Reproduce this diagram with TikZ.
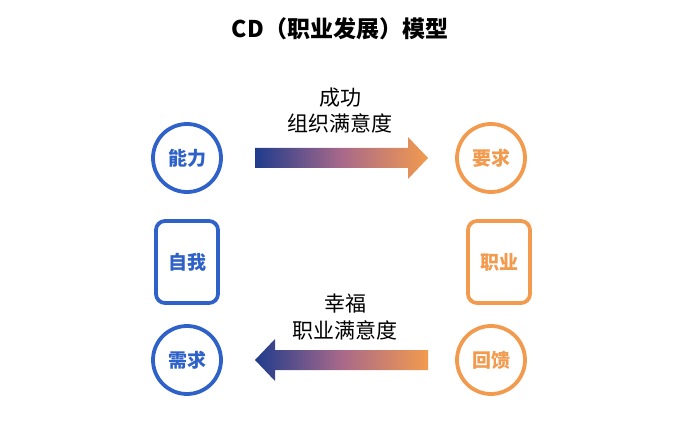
\documentclass[tikz,border=0pt]{standalone}
\usepackage{fontspec}
\setmainfont{Noto Sans CJK SC}
\begin{document}
\begin{tikzpicture}[x=1pt,y=-1pt]
\definecolor{bl}{HTML}{2F62C8}
\definecolor{nv}{HTML}{1F3C8C}
\definecolor{md}{HTML}{A8698A}
\definecolor{or}{HTML}{F29A4E}
\tikzset{
 bc/.style={circle,draw=bl,line width=3.8pt,minimum size=68pt,inner sep=0pt,text=bl,font=\bfseries\fontsize{19}{22}\selectfont},
 oc/.style={bc,draw=or,text=or},
 br/.style={rounded corners=9pt,draw=bl,line width=3.8pt,minimum width=62pt,minimum height=82pt,text=bl,font=\bfseries\fontsize{19}{22}\selectfont},
 orr/.style={br,draw=or,text=or},
 lab/.style={font=\fontsize{21}{24}\selectfont,text=black}
}
\useasboundingbox (0,0) rectangle (673,425);
\node[font=\bfseries\fontsize{23}{26}\selectfont] (t) at (340,29) {CD（职业发展）模型};
\node[bc] (a) at (187,158) {能力};
\node[oc] (b) at (491,158) {要求};
\node[br] (c) at (187,262) {自我};
\node[orr] (d) at (499,262) {职业};
\node[bc] (e) at (187,360) {需求};
\node[oc] (f) at (491,360) {回馈};
\node[lab] (l1) at (340,98) {成功};
\node[lab] (l2) at (340,123) {组织满意度};
\node[lab] (l3) at (345,304) {幸福};
\node[lab] (l4) at (345,330) {职业满意度};
\shade[left color=nv,right color=or,middle color=md]
 (255,148) -- (408,148) -- (408,137) -- (428,158) -- (408,179) -- (408,168) -- (255,168) -- cycle;
\shade[left color=nv,right color=or,middle color=md]
 (428,350) -- (275,350) -- (275,339) -- (255,360) -- (275,381) -- (275,370) -- (428,370) -- cycle;
\end{tikzpicture}
\end{document}
